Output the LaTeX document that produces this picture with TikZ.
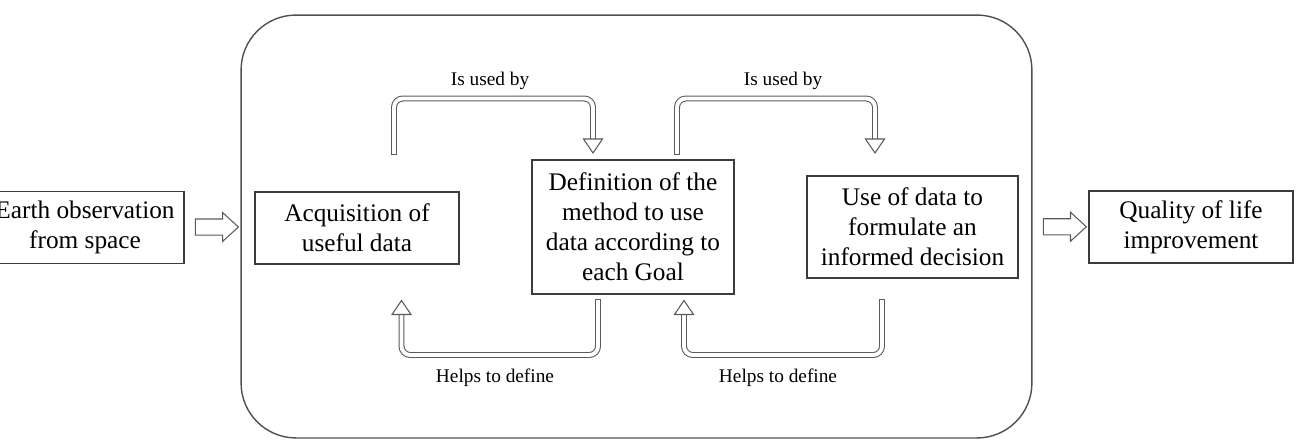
\documentclass[tikz,border=0pt]{standalone}
\usepackage{fontspec}
\setmainfont{Liberation Serif}
\usetikzlibrary{shapes.arrows,calc}
\definecolor{boxgray}{HTML}{3C3C3C}
\definecolor{arrowgray}{HTML}{5A5A5A}
\definecolor{framegray}{HTML}{505050}

\begin{document}
\begin{tikzpicture}[x=0.02cm, y=-0.02cm,
    box/.style={draw=boxgray, line width=0.8pt, align=center, inner sep=0pt,
      font=\fontsize{14.4}{17}\selectfont, minimum height=1.44cm},
    fatarrow/.style={single arrow, draw=arrowgray, line width=0.6pt, inner sep=0.15cm,
      minimum height=0.86cm, single arrow head extend=0.13cm, single arrow tip angle=85},
    bentshaft/.style={draw=arrowgray, line width=0.6pt, double=white, double distance=2.2pt,
      rounded corners=5pt, line cap=rect},
    benthead/.style={draw=arrowgray, fill=white, line width=0.6pt, line join=miter},
    lbl/.style={font=\fontsize{11}{13}\selectfont, inner sep=0pt}]
    \useasboundingbox (0,0) rectangle (1296,444);

    \node [draw=framegray, line width=0.8pt, rounded corners=1.1cm,
      minimum width=15.82cm, minimum height=8.46cm] (frame) at (636.5,226.5) {};

    \node [box, minimum width=3.96cm] (earth) at (85,227.5) {Earth observation\\from space};
    \node [box, minimum width=4.08cm] (acq) at (357,228) {Acquisition of\\useful data};
    \node [box, minimum width=4.04cm, minimum height=2.68cm] (method) at (633,227)
      {Definition of the\\method to use\\data according to\\each Goal};
    \node [box, minimum width=4.22cm, minimum height=2.04cm] (use) at (912.5,227)
      {Use of data to\\formulate an\\informed decision};
    \node [box, minimum width=4.08cm] (quality) at (1191,227) {Quality of life\\improvement};

    \node [fatarrow] (a1) at ($(earth.east)!0.5!(frame.west)$) {};
    \node [fatarrow] (a2) at ($(frame.east)!0.5!(quality.west)$) {};

    % is used by
    \coordinate (u1s) at (394,152);
    \coordinate (u1e) at (593,153);
    \draw [bentshaft] (u1s) -- ++(0,-53.5) -| ($(u1e)+(0,-13)$);
    \draw [benthead] (u1e) -- ++(-9.5,-14) -- ++(19,0) -- cycle;
    \coordinate (u2s) at (677,152);
    \coordinate (u2e) at (875,153);
    \draw [bentshaft] (u2s) -- ++(0,-53.5) -| ($(u2e)+(0,-13)$);
    \draw [benthead] (u2e) -- ++(-9.5,-14) -- ++(19,0) -- cycle;

    % helps to define
    \coordinate (h1s) at (598,302);
    \coordinate (h1e) at (401.5,300.5);
    \draw [bentshaft] (h1s) -- ++(0,53) -| ($(h1e)+(0,13)$);
    \draw [benthead] (h1e) -- ++(-9.5,14) -- ++(19,0) -- cycle;
    \coordinate (h2s) at (882,302);
    \coordinate (h2e) at (684,300.5);
    \draw [bentshaft] (h2s) -- ++(0,53) -| ($(h2e)+(0,13)$);
    \draw [benthead] (h2e) -- ++(-9.5,14) -- ++(19,0) -- cycle;

    \node [lbl, anchor=base] (t1) at (490,85) {Is used by};
    \node [lbl, anchor=base] (t2) at (783,85) {Is used by};
    \node [lbl, anchor=base] (t3) at (495,382) {Helps to define};
    \node [lbl, anchor=base] (t4) at (778,382) {Helps to define};
\end{tikzpicture}
\end{document}
